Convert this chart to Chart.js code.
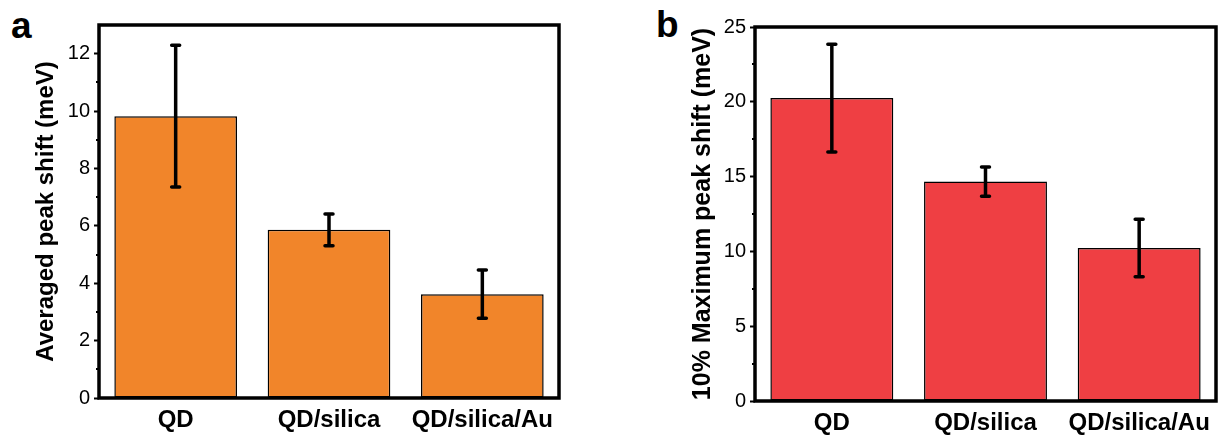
<!DOCTYPE html>
<html>
<head>
<meta charset="utf-8">
<script src="https://cdn.jsdelivr.net/npm/chart.js@4.4.1/dist/chart.umd.min.js"></script>
<style>
  html, body { margin: 0; padding: 0; background: #fff; }
  body { width: 1219px; height: 437px; position: relative; overflow: hidden; }
  canvas { position: absolute; top: 0; }
  .panel-tag {
    position: absolute;
    font-family: "Liberation Sans", Arial, sans-serif;
    font-weight: bold;
    font-size: 37px;
    line-height: 1;
    color: #000;
  }
</style>
</head>
<body>
<div class="panel-tag" style="left:11px; top:7px;">a</div>
<div class="panel-tag" style="left:656px; top:6px;">b</div>
<canvas id="chartA" width="600" height="437" style="left:0;"></canvas>
<canvas id="chartB" width="619" height="437" style="left:600px;"></canvas>

<script>
// categories shared by both panels
const categories = ['QD', 'QD/silica', 'QD/silica/Au'];

// panel a: averaged peak shift (meV) with error
const avgShift    = [9.82, 5.86, 3.62];
const avgShiftErr = [2.47, 0.55, 0.84];
const ticksA      = [0, 2, 4, 6, 8, 10, 12];
const minorA      = [1, 3, 5, 7, 9, 11];

// panel b: 10% maximum peak shift (meV) with error
const maxShift    = [20.25, 14.67, 10.23];
const maxShiftErr = [3.6, 0.98, 1.92];
const ticksB      = [0, 5, 10, 15, 20, 25];
const minorB      = [2.5, 7.5, 12.5, 17.5, 22.5];

const FONT = '"Liberation Sans", Arial, sans-serif';

// error bars, minor ticks and the box frame
const decorPlugin = {
  id: 'decor',
  afterDatasetsDraw(chart, args, opts) {
    const ctx = chart.ctx;
    const y = chart.scales.y;
    const meta = chart.getDatasetMeta(0);
    const vals = chart.data.datasets[0].data;
    ctx.save();
    ctx.strokeStyle = '#000';
    meta.data.forEach((bar, i) => {
      const yHi = y.getPixelForValue(vals[i] + opts.err[i]);
      const yLo = y.getPixelForValue(vals[i] - opts.err[i]);
      ctx.lineWidth = 3.5;
      ctx.lineCap = 'butt';
      ctx.beginPath();
      ctx.moveTo(bar.x, yHi);
      ctx.lineTo(bar.x, yLo);
      ctx.stroke();
      ctx.lineCap = 'round';
      ctx.beginPath();
      ctx.moveTo(bar.x - 4, yHi);
      ctx.lineTo(bar.x + 4, yHi);
      ctx.moveTo(bar.x - 4, yLo);
      ctx.lineTo(bar.x + 4, yLo);
      ctx.stroke();
    });
    ctx.restore();
  },
  afterDraw(chart, args, opts) {
    const ctx = chart.ctx;
    const a = chart.chartArea;
    const y = chart.scales.y;
    ctx.save();
    ctx.strokeStyle = '#000';
    ctx.lineWidth = 2;
    ctx.beginPath();
    opts.minor.forEach(v => {
      const py = Math.round(y.getPixelForValue(v));
      ctx.moveTo(a.left - 3, py);
      ctx.lineTo(a.left, py);
    });
    ctx.stroke();
    ctx.lineWidth = 3.5;
    ctx.strokeRect(a.left, a.top, a.right - a.left, a.bottom - a.top);
    ctx.restore();
  }
};

function makeChart(id, values, errs, color, yMax, majors, minors, title, axisW, pad, titlePad, titleSize) {
  return new Chart(document.getElementById(id), {
    type: 'bar',
    data: {
      labels: categories,
      datasets: [{
        data: values,
        backgroundColor: color,
        borderColor: '#000',
        borderWidth: 1.5,
        borderSkipped: false,
        categoryPercentage: 0.8,
        barPercentage: 1.0,
      }]
    },
    options: {
      responsive: false,
      animation: false,
      layout: { padding: pad },
      plugins: {
        legend: { display: false },
        tooltip: { enabled: false },
        decor: { err: errs, minor: minors },
      },
      scales: {
        x: {
          grid: { display: false, drawTicks: false },
          border: { display: false },
          ticks: {
            color: '#000',
            padding: 8,
            maxRotation: 0,
            autoSkip: false,
            font: { family: FONT, size: 24, weight: 'bold' },
          },
          afterFit: s => { s.height = pad.xh; },
        },
        y: {
          min: 0,
          max: yMax,
          afterBuildTicks: s => { s.ticks = majors.map(v => ({ value: v })); },
          grid: { drawOnChartArea: false, drawTicks: true, tickLength: 5, tickWidth: 2, tickColor: '#000' },
          border: { display: false },
          ticks: {
            color: '#000',
            padding: 4,
            font: { family: FONT, size: 20 },
          },
          title: {
            display: true,
            text: title,
            color: '#000',
            padding: { top: titlePad, bottom: 0 },
            font: { family: FONT, size: titleSize, weight: 'bold' },
          },
          afterFit: s => { s.width = axisW; },
        },
      },
    },
    plugins: [decorPlugin],
  });
}

makeChart('chartA', avgShift, avgShiftErr, '#F1852A', 13, ticksA, minorA,
  'Averaged peak shift (meV)', 99, { left: 0, right: 41, top: 25, bottom: 0, xh: 39 }, 32, 24);

makeChart('chartB', maxShift, maxShiftErr, '#EF3F43', 25, ticksB, minorB,
  '10% Maximum peak shift (meV)', 155, { left: 0, right: 3, top: 27, bottom: 0, xh: 36 }, 88, 25);
</script>
</body>
</html>
